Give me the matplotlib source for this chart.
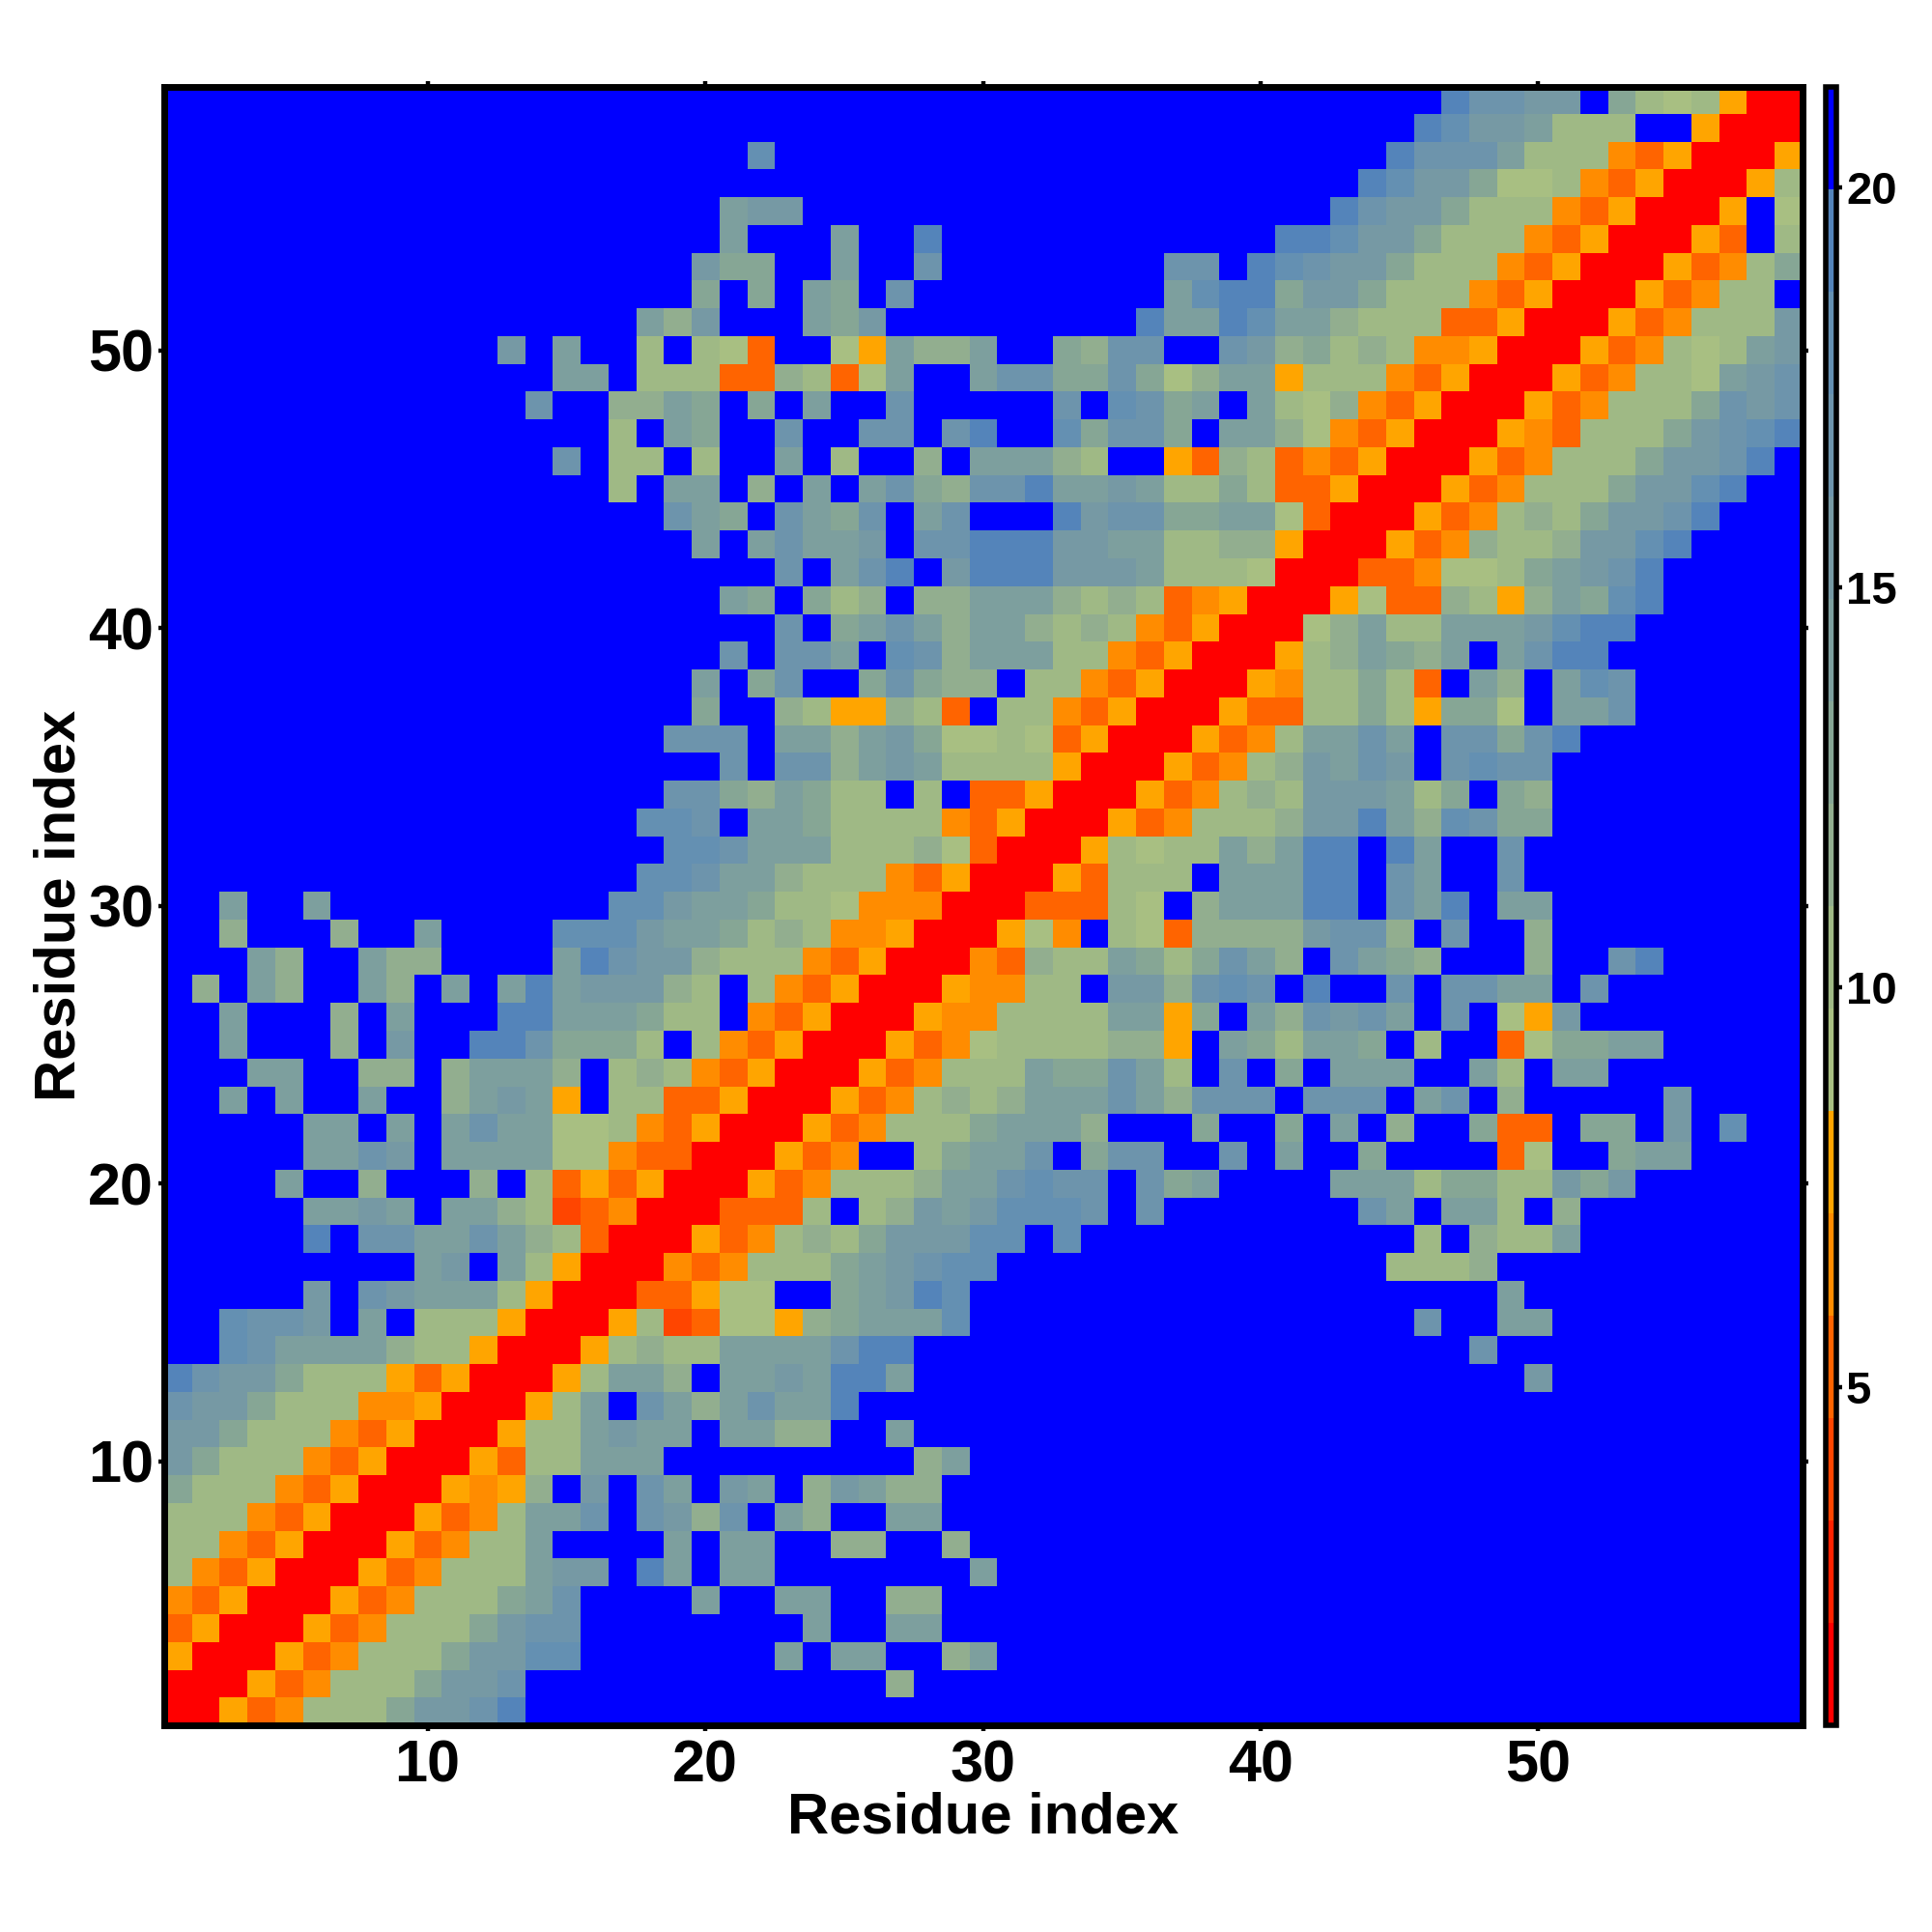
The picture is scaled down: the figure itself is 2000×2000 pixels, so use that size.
# Residue distance map, 59 residues, symmetric so only the lower triangle is listed
import numpy as np
import matplotlib
matplotlib.use("Agg")
import matplotlib.pyplot as plt
from matplotlib.colors import ListedColormap

plt.rcParams['font.family'] = ['Liberation Sans', 'DejaVu Sans']
plt.rcParams['font.weight'] = 'bold'

# colour band of each cell (hex digit), row 1 first, columns 1..row
band_rows = [
    "0",
    "00",
    "500",
    "3500",
    "43500",
    "743500",
    "7743500",
    "77743500",
    "977743500",
    "B977743500",
    "BB97774350 0",
    "CBB9777445 00",
    "ECBB977753 500",
    "FFDCAAAA87 7500",
    "FFDCCBFAF7 77500",
    "FFFFFBFCBA AA7500",
    "FFFFFFFFFA BFA7500",
    "FFFFFEFCCA ACA87300",
    "FFFFFAABAF AA8723400",
    "FFFFAFF8FF F8F7353500",
    "FFFFFAACBF AAAA664330 0",
    "FFFFFAAFAF ACAA667435 00",
    "FFAFAFFAFF 8ABA5F7733 500",
    "FFFAAFF88F 8AAA8F7874 3500",
    "FFAFFF8FBF FEEC9997F7 43500",
    "FFAFFF8FAF FFEEAAA977 F43500",
    "F8FA8FFA8F AFAEABBB87 F743500",
    "FFFA8FFA88 FFFFAECBB8 77743500",
    "FF8FFF8FFA FFFFDDDBAA 978744500",
    "FFAFFAFFFF FFFFFFDDBA A977644400",
    "FFFFFFFFFF FFFFFFFDDC AA87774350 0",
    "FFFFFFFFFF FFFFFFFFDD CAAA777863 00",
    "FFFFFFFFFF FFFFFFFDDC FAA9777743 500",
    "FFFFFFFFFF FFFFFFFFCC 98A977F7F3 3500",
    "FFFFFFFFFF FFFFFFFFFF CFCC8ABA77 77500",
    "FFFFFFFFFF FFFFFFFFCC CFAA8AB966 763500",
    "FFFFFFFFFF FFFFFFFFF9 FF8755873F 7743500",
    "FFFFFFFFFF FFFFFFFFFA F9CFF9C988 F7743500",
    "FFFFFFFFFF FFFFFFFFFF CFCCAFDC8A AA7743500",
    "FFFFFFFFFF FFFFFFFFFF FFCF9ACA8A A878743500",
    "FFFFFFFFFF FFFFFFFFFF A9F978F88A AA87873450 0",
    "FFFFFFFFFF FFFFFFFFFF FFCFACEFBE EEBBBA7776 00",
    "FFFFFFFFFF FFFFFFFFFA FACAABFCCE EEBBAA7788 500",
    "FFFFFFFFFF FFFFFFFFCA 9FCA9CFACF FFEBCC99AA 6300",
    "FFFFFFFFFF FFFFFF7FAA F8FAFAC98C CEAABA7797 33500",
    "FFFFFFFFFF FFFFCF77F7 FFAF7FF8FA AA87FF5387 343500",
    "FFFFFFFFFF FFFFFF7FA9 FFCFFCCFCE FFD9CC9FAA 8643500",
    "FFFFFFFFFF FFFCFF88A9 F9FAFFCFFF FFCFDC9AFA 76843500",
    "FFFFFFFFFF FFFFAAF777 338736AFFA CC99C968AA 577743500",
    "FFFFFFFFFF FFBFAFF7F7 63FF65A88A FF98CCFFCB 8978744500",
    "FFFFFFFFFF FFFFFFFA8B FFFA9BFFFF FFFFFEAAED AA87773350 0",
    "FFFFFFFFFF FFFFFFFFF9 F9FA9FCFFF FFFFFFADEE 9BB9777435 00",
    "FFFFFFFFFF FFFFFFFFFB 99FFAFFCFF FFFFFFCCFE DCBB977743 500",
    "FFFFFFFFFF FFFFFFFFFF AFFFAFFEFF FFFFFFFFFF EEDBB97774 3500",
    "FFFFFFFFFF FFFFFFFFFF ABBFFFFFFF FFFFFFFFFF FFECBB9777 43500",
    "FFFFFFFFFF FFFFFFFFFF FFFFFFFFFF FFFFFFFFFF FFFEDBB966 743500",
    "FFFFFFFFFF FFFFFFFFFF FDFFFFFFFF FFFFFFFFFF FFFFECCCA7 7743500",
    "FFFFFFFFFF FFFFFFFFFF FFFFFFFFFF FFFFFFFFFF FFFFFEDBBA 777FF500",
    "FFFFFFFFFF FFFFFFFFFF FFFFFFFFFF FFFFFFFFFF FFFFFFECCB BF9767500",
]

band_colors = ["#FF0000", "#FF2200", "#FF4500", "#FF6400", "#FF8C00", "#FFA500",
               "#A8BF82", "#9FB985", "#92AE8F", "#86A695", "#7D9F9E", "#7699A4",
               "#6D94AC", "#6490B2", "#5484BA", "#0000FF"]

v_min = 0.78
v_max = 21.26
index_ticks = [10, 20, 30, 40, 50]
bar_ticks = [5, 10, 15, 20]

n = len(band_rows)
step = (v_max - v_min) / len(band_colors)
dist = np.zeros((n, n))
for i, row in enumerate(band_rows):
    for j, ch in enumerate(row.replace(" ", "")):
        dist[i, j] = v_min + (int(ch, 16) + 0.5) * step
        dist[j, i] = dist[i, j]

fig = plt.figure(figsize=(20, 20), dpi=100)


# axes box given in pixels from the top left of the 2000x2000 image
def box(left, top, right, bottom):
    return [left / 2000, 1 - bottom / 2000, (right - left) / 2000, (bottom - top) / 2000]


ax = fig.add_axes(box(169.5, 89.5, 1865.5, 1786))
cmap = ListedColormap(band_colors)
im = ax.imshow(dist, origin='lower', cmap=cmap, vmin=v_min, vmax=v_max,
               extent=(0.5, n + 0.5, 0.5, n + 0.5), aspect='auto', interpolation='nearest')

ax.set_xticks(index_ticks)
ax.set_yticks(index_ticks)
ax.tick_params(axis='both', which='major', direction='out', length=4.5, width=3.2,
               top=True, right=True, labelsize=44)
ax.tick_params(axis='x', pad=6)
ax.tick_params(axis='y', pad=3)
for side in ax.spines.values():
    side.set_linewidth(5)

ax.set_xlabel("Residue index", fontsize=43, fontweight='bold', labelpad=-2)
ax.set_ylabel("Residue index", fontsize=43, fontweight='bold', labelpad=1)

cax = fig.add_axes(box(1889.75, 89.5, 1901.25, 1786))
cb = fig.colorbar(im, cax=cax, ticks=bar_ticks)
cb.outline.set_linewidth(4)
cb.ax.tick_params(direction='out', length=4, width=3.2, labelsize=34, pad=3)

fig.savefig("out.png", dpi=100)
